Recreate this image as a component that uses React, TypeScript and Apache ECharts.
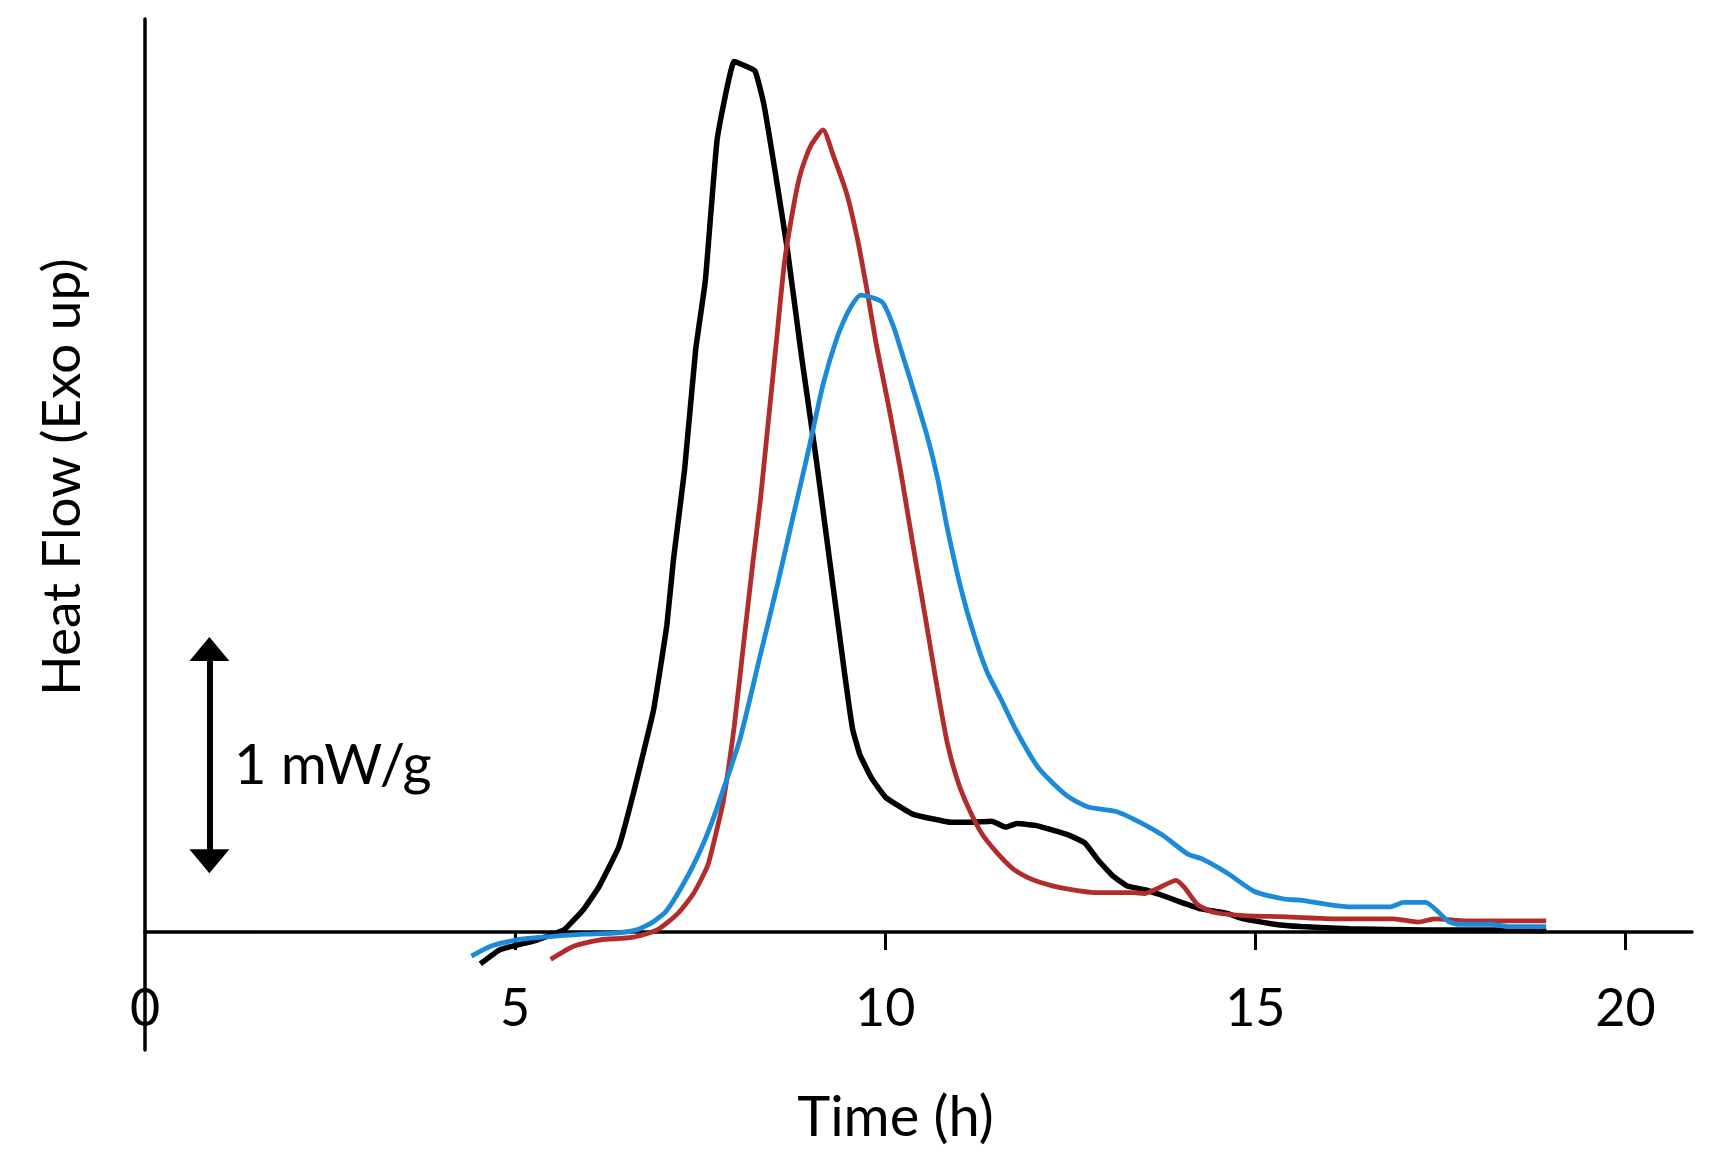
import { useEffect, useRef } from "react";
import * as echarts from "echarts";

// x axis (Time, h)
const TIME_LABELS = [0, 5, 10, 15, 20];
const TIME_TICKS = [5, 10, 15, 20];
const TIME_MAX = 20.9;
// y axis (heat flow, mW/g, no labels)
const FLOW_MIN = -0.5;
const FLOW_MAX = 3.87;

// curves: [time h, heat flow mW/g]
const BLACK: [number, number][] = [
  [4.53, -0.135], [4.8, -0.074], [5.26, -0.037], [5.66, 0.009], [5.93, 0.098], [6.13, 0.19],
  [6.4, 0.36], [6.6, 0.59], [6.87, 0.94], [7.05, 1.3], [7.14, 1.58], [7.29, 1.96], [7.44, 2.47],
  [7.57, 2.76], [7.73, 3.36], [7.96, 3.69], [8.24, 3.65], [8.36, 3.51], [8.52, 3.21], [8.68, 2.89],
  [8.87, 2.44], [9.07, 2.0], [9.26, 1.55], [9.45, 1.1], [9.56, 0.86], [9.66, 0.75],
  [9.82, 0.65], [10.01, 0.57], [10.37, 0.5], [10.9, 0.465], [11.14, 0.465], [11.44, 0.47],
  [11.63, 0.445], [11.78, 0.46], [12.06, 0.45], [12.49, 0.41], [12.7, 0.377], [12.89, 0.3],
  [13.08, 0.237], [13.27, 0.195], [13.53, 0.177], [13.72, 0.158], [14.0, 0.126], [14.27, 0.098],
  [14.62, 0.079], [14.84, 0.056], [15.26, 0.033], [15.61, 0.023], [16.27, 0.014], [17.3, 0.009],
  [18.19, 0.009], [18.93, 0.005],
];

const RED: [number, number][] = [
  [5.48, -0.116], [5.79, -0.06], [6.15, -0.033], [6.58, -0.023], [6.92, 0.009], [7.2, 0.079],
  [7.41, 0.163], [7.6, 0.28], [7.7, 0.4], [7.81, 0.55], [7.96, 0.87], [8.09, 1.23], [8.21, 1.56],
  [8.31, 1.82], [8.41, 2.13], [8.52, 2.47], [8.64, 2.84], [8.77, 3.09], [8.86, 3.22], [8.99, 3.33],
  [9.16, 3.4], [9.3, 3.29], [9.48, 3.13], [9.63, 2.93], [9.76, 2.71], [9.88, 2.49], [10.04, 2.24],
  [10.2, 1.97], [10.37, 1.65], [10.55, 1.32], [10.7, 1.04], [10.84, 0.8], [10.98, 0.64],
  [11.12, 0.53], [11.3, 0.42], [11.5, 0.34], [11.72, 0.27], [11.9, 0.235], [12.1, 0.21],
  [12.4, 0.186], [12.86, 0.167], [13.36, 0.167], [13.5, 0.163], [13.69, 0.186], [13.93, 0.219],
  [14.04, 0.19], [14.22, 0.116], [14.44, 0.084], [14.84, 0.07], [15.35, 0.065], [16.06, 0.056],
  [16.87, 0.056], [17.2, 0.042], [17.42, 0.056], [17.87, 0.047], [18.93, 0.047],
];

const BLUE: [number, number][] = [
  [4.41, -0.102], [4.67, -0.06], [5.02, -0.033], [5.48, -0.019], [5.93, -0.009], [6.34, -0.005],
  [6.64, 0.009], [6.86, 0.042], [7.04, 0.088], [7.23, 0.18], [7.45, 0.31], [7.64, 0.45],
  [7.82, 0.61], [8.04, 0.82], [8.31, 1.17], [8.55, 1.48], [8.77, 1.78], [8.97, 2.05], [9.16, 2.32],
  [9.35, 2.52], [9.5, 2.63], [9.67, 2.7], [9.96, 2.67], [10.12, 2.56], [10.21, 2.47],
  [10.34, 2.34], [10.56, 2.11], [10.71, 1.92], [10.84, 1.71], [11.02, 1.46], [11.2, 1.26],
  [11.38, 1.1], [11.56, 0.99], [11.76, 0.86], [12.06, 0.7], [12.27, 0.63], [12.49, 0.57],
  [12.74, 0.53], [13.13, 0.51], [13.41, 0.47], [13.75, 0.41], [14.09, 0.33], [14.28, 0.31],
  [14.62, 0.25], [14.99, 0.172], [15.39, 0.14], [15.61, 0.135], [16.25, 0.107], [16.83, 0.107],
  [17.0, 0.126], [17.3, 0.126], [17.6, 0.047], [17.73, 0.033], [18.19, 0.033], [18.41, 0.023],
  [18.93, 0.023],
];

// 1 mW/g scale bar, tip to tip
const SCALE_X = 0.87;
const SCALE_FROM = 0.25;
const SCALE_TO = 1.25;
const SCALE_HEAD = 0.05; // half of the arrow head height, in mW/g

const FONT = "Lato, 'Open Sans', sans-serif";

export default function App() {
  const ref = useRef<HTMLDivElement>(null);

  useEffect(() => {
    if (!ref.current) return;
    const chart = echarts.init(ref.current, undefined, { renderer: "svg" });

    const line = (name: string, data: [number, number][], color: string, width: number, smooth: number) => ({
      name,
      type: "line",
      data,
      smooth,
      showSymbol: false,
      symbol: "none",
      lineStyle: { color, width },
      z: 3,
    });

    chart.setOption({
      animation: false,
      backgroundColor: "#ffffff",
      grid: { left: 145, right: 18, top: 19, bottom: 119, outerBoundsMode: "none" },
      xAxis: {
        type: "value",
        min: 0,
        max: TIME_MAX,
        interval: 5,
        name: "Time (h)",
        nameLocation: "middle",
        nameGap: 36,
        nameTextStyle: { fontFamily: FONT, fontSize: 56, color: "#000", padding: [0, 46, 0, 0] },
        axisLine: { onZero: true, lineStyle: { color: "#000", width: 3.5 } },
        axisTick: { show: true, length: 18, customValues: TIME_TICKS, lineStyle: { color: "#000", width: 3 } },
        axisLabel: {
          customValues: TIME_LABELS,
          margin: -70,
          fontFamily: FONT,
          fontSize: 52,
          color: "#000",
          formatter: (v: number) => (TIME_LABELS.includes(v) ? String(v) : ""),
        },
        splitLine: { show: false },
      },
      yAxis: {
        type: "value",
        min: FLOW_MIN,
        max: FLOW_MAX,
        axisLine: { show: true, onZero: false, lineStyle: { color: "#000", width: 3.5 } },
        axisTick: { show: false },
        axisLabel: { show: false },
        splitLine: { show: false },
      },
      series: [
        line("Black", BLACK, "#000000", 5.5, 0.1),
        line("Red", RED, "#b22c2c", 4.8, 0.2),
        line("Blue", BLUE, "#1b8ad8", 4.8, 0.2),
        {
          name: "Scale",
          type: "line",
          data: [],
          markLine: {
            silent: true,
            symbol: ["triangle", "triangle"],
            symbolSize: [40, 24],
            label: { show: false },
            lineStyle: { color: "#000", width: 6, type: "solid" },
            data: [[
              { coord: [SCALE_X, SCALE_FROM + SCALE_HEAD] },
              { coord: [SCALE_X, SCALE_TO - SCALE_HEAD] },
            ]],
          },
        },
      ],
      graphic: [
        {
          type: "text",
          x: 59,
          y: 477,
          rotation: Math.PI / 2,
          style: {
            text: "Heat Flow (Exo up)",
            fontFamily: FONT,
            fontSize: 53,
            fill: "#000",
            align: "center",
            verticalAlign: "middle",
          },
        },
        {
          type: "text",
          x: 234,
          y: 762,
          style: {
            text: "1 mW/g",
            fontFamily: FONT,
            fontSize: 56,
            fill: "#000",
            align: "left",
            verticalAlign: "middle",
          },
        },
      ],
    });

    return () => chart.dispose();
  }, []);

  return (
    <div
      ref={ref}
      style={{ position: "fixed", left: 0, top: 0, width: 1710, height: 1169, background: "#fff" }}
    />
  );
}
